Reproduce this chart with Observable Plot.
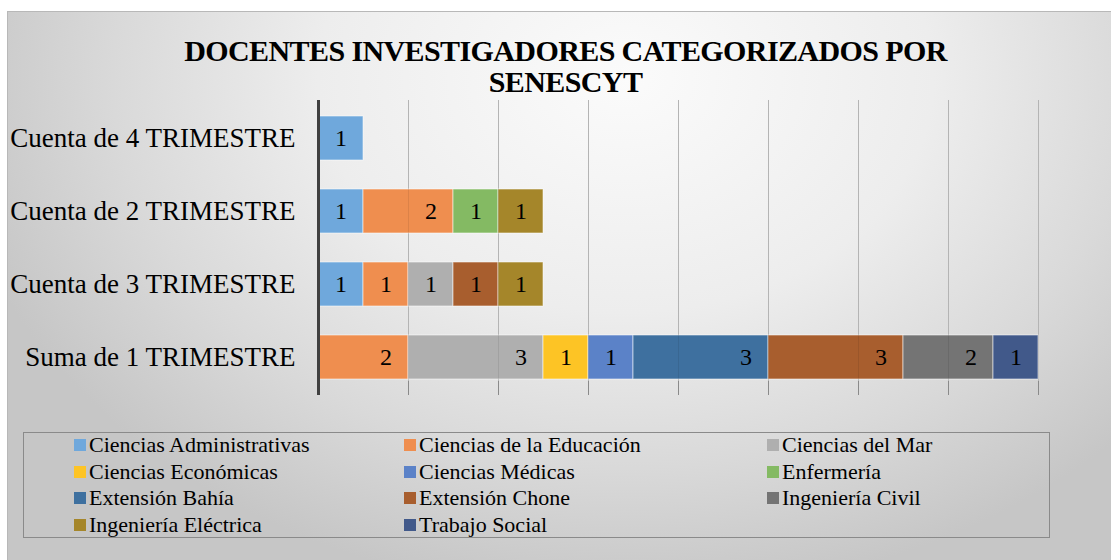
<!DOCTYPE html>
<html>
<head>
<meta charset="utf-8">
<script src="https://cdn.jsdelivr.net/npm/d3@7"></script>
<script src="https://cdn.jsdelivr.net/npm/@observablehq/plot@0.6"></script>
<style>
  html, body { margin: 0; padding: 0; background: #ffffff; }
  body { width: 1111px; height: 560px; position: relative; overflow: hidden; font-family: "Liberation Serif", "Times New Roman", serif; }
  #panel {
    position: absolute; left: 7px; top: 11px; width: 1104px; height: 549px;
    border-top: 1px solid #b8b8b8; border-left: 1px solid #b8b8b8; box-sizing: border-box;
    background: radial-gradient(ellipse 62% 95% at 56% 12%, #fbfbfb 0%, #ededed 45%, #d9d9d9 75%, #c6c6c6 100%);
  }
  #title {
    position: absolute; left: 0; top: 35px; width: 1131px; text-align: center;
    font-family: "Liberation Serif", "Times New Roman", serif;
    font-weight: bold; font-size: 30px; line-height: 31px; letter-spacing: -0.6px; color: #000;
  }
  #chart { position: absolute; left: 0; top: 95px; }
  #legend {
    position: absolute; left: 23px; top: 432px; width: 1027px; height: 106px;
    border: 1.5px solid #8a8a8a; box-sizing: border-box;
  }
  .item { position: absolute; font-family: "Liberation Serif", "Times New Roman", serif; font-size: 22px; line-height: 22px; color: #000; white-space: nowrap; }
  .sw { display: inline-block; width: 12px; height: 12px; margin-right: 3px; vertical-align: 1px; }
</style>
</head>
<body>
<div id="panel"></div>
<div id="title">DOCENTES INVESTIGADORES CATEGORIZADOS POR<br>SENESCYT</div>
<div id="chart"></div>
<div id="legend"></div>
<script>
// ---- data ----
const rows = ["Cuenta de 4 TRIMESTRE", "Cuenta de 2 TRIMESTRE", "Cuenta de 3 TRIMESTRE", "Suma de 1 TRIMESTRE"];
const series = [
  "Ciencias Administrativas", "Ciencias de la Educación", "Ciencias del Mar",
  "Ciencias Económicas", "Ciencias Médicas", "Enfermería",
  "Extensión Bahía", "Extensión Chone", "Ingeniería Civil",
  "Ingeniería Eléctrica", "Trabajo Social"
];
const colors = ["#6fa8dc", "#ef8e4f", "#afafaf", "#fdc425", "#5b82c8", "#84ba63", "#3e709f", "#a85e2e", "#747474", "#a5862a", "#41598a"];
// values per row, aligned with series
const trimestre4 = [1, 0, 0, 0, 0, 0, 0, 0, 0, 0, 0];
const trimestre2 = [1, 2, 0, 0, 0, 1, 0, 0, 0, 1, 0];
const trimestre3 = [1, 1, 1, 0, 0, 0, 0, 1, 0, 1, 0];
const trimestre1 = [0, 2, 3, 1, 1, 0, 3, 3, 2, 0, 1];
const gridTicks = [2, 4, 6, 8, 10, 12, 14, 16];

const rowValues = [trimestre4, trimestre2, trimestre3, trimestre1];
const table = [];
rows.forEach((r, i) => {
  series.forEach((s, j) => {
    const v = rowValues[i][j];
    if (v > 0) table.push({row: r, series: s, value: v});
  });
});

const chart = Plot.plot({
  width: 1111,
  height: 310,
  marginLeft: 318,
  marginRight: 73,
  marginTop: 5,
  marginBottom: 10,
  style: {background: "transparent", fontFamily: "'Liberation Serif', 'Times New Roman', serif", color: "#000"},
  x: {domain: [0, 16], axis: null},
  y: {domain: rows, paddingInner: 0.4, paddingOuter: 0.2, axis: null},
  color: {domain: series, range: colors},
  marks: [
    Plot.ruleX(gridTicks, {stroke: "#c4c4c4", strokeWidth: 1}),
    Plot.barX(table, Plot.stackX({x: "value", y: "row", fill: "series", stroke: "#ffffff", strokeOpacity: 0.55, strokeWidth: 1})),
    Plot.ruleX(gridTicks, {stroke: "#000", strokeOpacity: 0.08, strokeWidth: 1}),
    Plot.ruleX(gridTicks, {stroke: "#8a8a8a", strokeWidth: 1, insetTop: 281}),
    Plot.text(table, Plot.stackX2({x: "value", y: "row", text: d => String(d.value), dx: -22.5, fontSize: 24, fill: "#000"})),
    Plot.ruleX([0], {stroke: "#404040", strokeWidth: 3}),
    Plot.axisY({tickSize: 0, tickPadding: 23, fontSize: 27, fill: "#000", label: null})
  ]
});
document.getElementById("chart").appendChild(chart);

// ---- legend ----
const legend = document.getElementById("legend");
const colX = [50, 380, 743];
const rowY = [1, 27.5, 54, 80.5];
series.forEach((s, i) => {
  const el = document.createElement("div");
  el.className = "item";
  el.style.left = colX[i % 3] + "px";
  el.style.top = rowY[Math.floor(i / 3)] + "px";
  const sw = document.createElement("span");
  sw.className = "sw";
  sw.style.background = colors[i];
  el.appendChild(sw);
  el.appendChild(document.createTextNode(s));
  legend.appendChild(el);
});
</script>
</body>
</html>
